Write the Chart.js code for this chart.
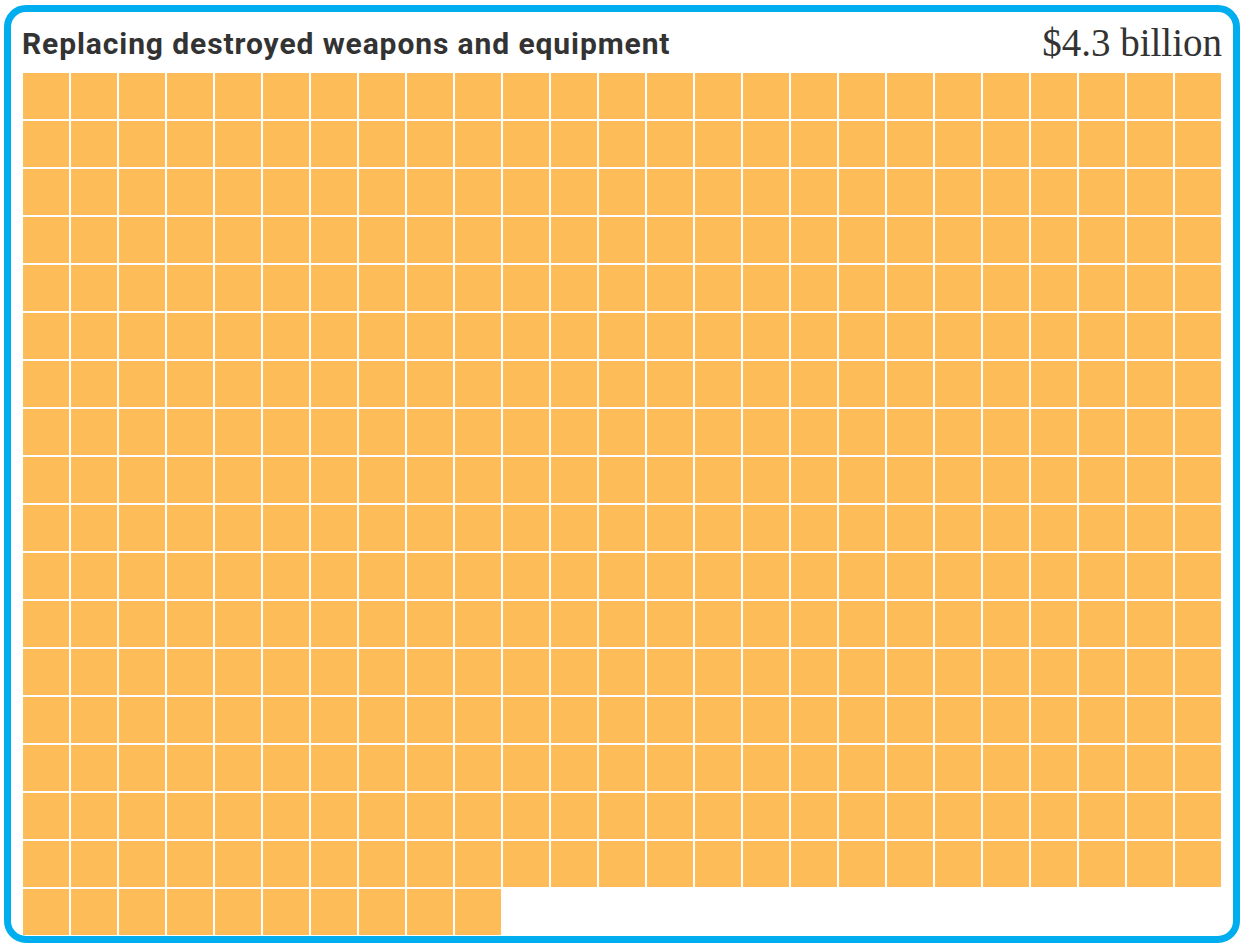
<!DOCTYPE html>
<html><head><meta charset="utf-8">
<script src="https://cdn.jsdelivr.net/npm/chart.js@4"></script>
<style>
html,body{margin:0;padding:0;background:#fff;width:1254px;height:948px;overflow:hidden;}
#frame{position:absolute;left:4px;top:5px;width:1222px;height:924px;border:7px solid #00AEEF;border-radius:22px;}
#title{position:absolute;left:22px;top:26px;font-family:Roboto,"Liberation Sans",sans-serif;font-weight:700;font-size:30px;color:#333;letter-spacing:0.9px;}
#total{position:absolute;right:32px;top:20px;font-family:"Liberation Serif","DejaVu Serif",serif;font-size:39px;color:#333;}
#wrap{position:absolute;left:22px;top:72px;width:1200px;height:864px;}
</style></head><body>
<div id="frame"></div>
<div id="title">Replacing destroyed weapons and equipment</div>
<div id="total">$4.3 billion</div>
<div id="wrap"><canvas id="c"></canvas></div>
<script>
const title = "Replacing destroyed weapons and equipment";
const totalLabel = "$4.3 billion";
const cellCount = [435];   // one cell ≈ $10 million
const columns = [25];
const cellColor = "#FDBC58";

const pts = [];
for (let i = 0; i < cellCount[0]; i++) {
  pts.push({x: i % columns[0], y: Math.floor(i / columns[0])});
}
new Chart(document.getElementById('c'), {
  type: 'scatter',
  data: {datasets: [{data: pts, backgroundColor: cellColor, borderWidth: 0,
    pointStyle: 'rect', pointRadius: 32.5, pointHoverRadius: 32.5}]},
  options: {
    responsive: true, maintainAspectRatio: false, animation: false,
    layout: {padding: 0, autoPadding: false},
    clip: false,
    plugins: {legend: {display: false}, tooltip: {enabled: false}},
    scales: {
      x: {type: 'linear', min: -0.5, max: 24.5, display: false},
      y: {type: 'linear', min: -0.5, max: 17.5, reverse: true, display: false}
    }
  }
});
</script>
</body></html>
